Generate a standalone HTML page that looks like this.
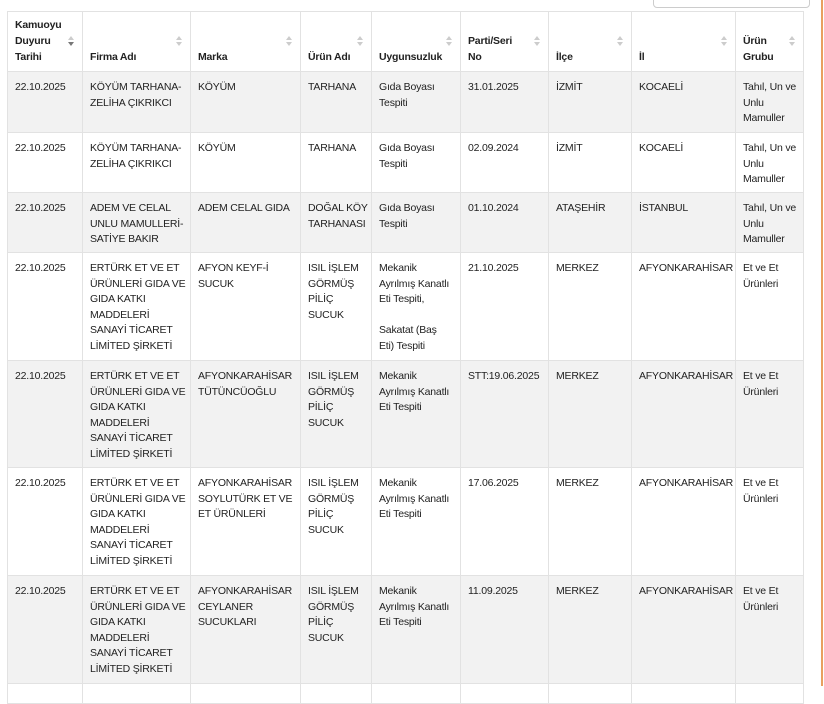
<!DOCTYPE html>
<html><head><meta charset="utf-8"><style>
body{margin:0;width:824px;height:686px;overflow:hidden;background:#fff;font-family:"Liberation Sans",sans-serif;color:#222;}
.search{position:absolute;left:653px;top:-6px;width:155px;height:12px;border:1px solid #ccc;border-radius:4px;}
.orange{position:absolute;left:821px;top:0;width:2px;height:686px;background:#e8a060;}
table{position:absolute;left:7px;top:11px;border-collapse:collapse;table-layout:fixed;font-size:10.5px;letter-spacing:-0.2px;}
td,th{border:1px solid #e2e2e2;padding:8px 0 0 7px;vertical-align:top;white-space:nowrap;line-height:15.6px;text-align:left;}
th{vertical-align:bottom;padding:0 0 6px 7px;font-weight:bold;line-height:16px;height:53px;position:relative;}
th::after{content:"";position:absolute;right:8px;top:24px;width:0;height:0;border-left:3px solid transparent;border-right:3px solid transparent;border-bottom:4px solid #ccc;}
th::before{content:"";position:absolute;right:8px;top:30px;width:0;height:0;border-left:3px solid transparent;border-right:3px solid transparent;border-top:4px solid #ccc;}
th.s::before{border-top-color:#777;}
tr.g td{background:#f2f2f2;}
</style></head><body>
<div class="search"></div>
<div class="orange"></div>
<table>
<colgroup><col style="width:75px"><col style="width:108px"><col style="width:110px"><col style="width:71px"><col style="width:89px"><col style="width:88px"><col style="width:83px"><col style="width:104px"><col style="width:68px"></colgroup>
<tr><th class="s">Kamuoyu<br>Duyuru<br>Tarihi</th><th>Firma Adı</th><th>Marka</th><th>Ürün Adı</th><th>Uygunsuzluk</th><th>Parti/Seri<br>No</th><th>İlçe</th><th>İl</th><th>Ürün<br>Grubu</th></tr>
<tr class="g" style="height:61px"><td>22.10.2025</td><td>KÖYÜM TARHANA-<br>ZELİHA ÇIKRIKCI</td><td>KÖYÜM</td><td>TARHANA</td><td>Gıda Boyası<br>Tespiti</td><td>31.01.2025</td><td>İZMİT</td><td>KOCAELİ</td><td>Tahıl, Un ve<br>Unlu<br>Mamuller</td></tr>
<tr style="height:60px"><td>22.10.2025</td><td>KÖYÜM TARHANA-<br>ZELİHA ÇIKRIKCI</td><td>KÖYÜM</td><td>TARHANA</td><td>Gıda Boyası<br>Tespiti</td><td>02.09.2024</td><td>İZMİT</td><td>KOCAELİ</td><td>Tahıl, Un ve<br>Unlu<br>Mamuller</td></tr>
<tr class="g" style="height:60px"><td>22.10.2025</td><td>ADEM VE CELAL<br>UNLU MAMULLERİ-<br>SATİYE BAKIR</td><td>ADEM CELAL GIDA</td><td>DOĞAL KÖY<br>TARHANASI</td><td>Gıda Boyası<br>Tespiti</td><td>01.10.2024</td><td>ATAŞEHİR</td><td>İSTANBUL</td><td>Tahıl, Un ve<br>Unlu<br>Mamuller</td></tr>
<tr style="height:108px"><td>22.10.2025</td><td>ERTÜRK ET VE ET<br>ÜRÜNLERİ GIDA VE<br>GIDA KATKI<br>MADDELERİ<br>SANAYİ TİCARET<br>LİMİTED ŞİRKETİ</td><td>AFYON KEYF-İ<br>SUCUK</td><td>ISIL İŞLEM<br>GÖRMÜŞ<br>PİLİÇ<br>SUCUK</td><td>Mekanik<br>Ayrılmış Kanatlı<br>Eti Tespiti,<br><br>Sakatat (Baş<br>Eti) Tespiti</td><td>21.10.2025</td><td>MERKEZ</td><td>AFYONKARAHİSAR</td><td>Et ve Et<br>Ürünleri</td></tr>
<tr class="g" style="height:107px"><td>22.10.2025</td><td>ERTÜRK ET VE ET<br>ÜRÜNLERİ GIDA VE<br>GIDA KATKI<br>MADDELERİ<br>SANAYİ TİCARET<br>LİMİTED ŞİRKETİ</td><td>AFYONKARAHİSAR<br>TÜTÜNCÜOĞLU</td><td>ISIL İŞLEM<br>GÖRMÜŞ<br>PİLİÇ<br>SUCUK</td><td>Mekanik<br>Ayrılmış Kanatlı<br>Eti Tespiti</td><td>STT:19.06.2025</td><td>MERKEZ</td><td>AFYONKARAHİSAR</td><td>Et ve Et<br>Ürünleri</td></tr>
<tr style="height:108px"><td>22.10.2025</td><td>ERTÜRK ET VE ET<br>ÜRÜNLERİ GIDA VE<br>GIDA KATKI<br>MADDELERİ<br>SANAYİ TİCARET<br>LİMİTED ŞİRKETİ</td><td>AFYONKARAHİSAR<br>SOYLUTÜRK ET VE<br>ET ÜRÜNLERİ</td><td>ISIL İŞLEM<br>GÖRMÜŞ<br>PİLİÇ<br>SUCUK</td><td>Mekanik<br>Ayrılmış Kanatlı<br>Eti Tespiti</td><td>17.06.2025</td><td>MERKEZ</td><td>AFYONKARAHİSAR</td><td>Et ve Et<br>Ürünleri</td></tr>
<tr class="g" style="height:108px"><td>22.10.2025</td><td>ERTÜRK ET VE ET<br>ÜRÜNLERİ GIDA VE<br>GIDA KATKI<br>MADDELERİ<br>SANAYİ TİCARET<br>LİMİTED ŞİRKETİ</td><td>AFYONKARAHİSAR<br>CEYLANER<br>SUCUKLARI</td><td>ISIL İŞLEM<br>GÖRMÜŞ<br>PİLİÇ<br>SUCUK</td><td>Mekanik<br>Ayrılmış Kanatlı<br>Eti Tespiti</td><td>11.09.2025</td><td>MERKEZ</td><td>AFYONKARAHİSAR</td><td>Et ve Et<br>Ürünleri</td></tr>
<tr style="height:20px"><td></td><td></td><td></td><td></td><td></td><td></td><td></td><td></td><td></td></tr>
</table>
</body></html>
